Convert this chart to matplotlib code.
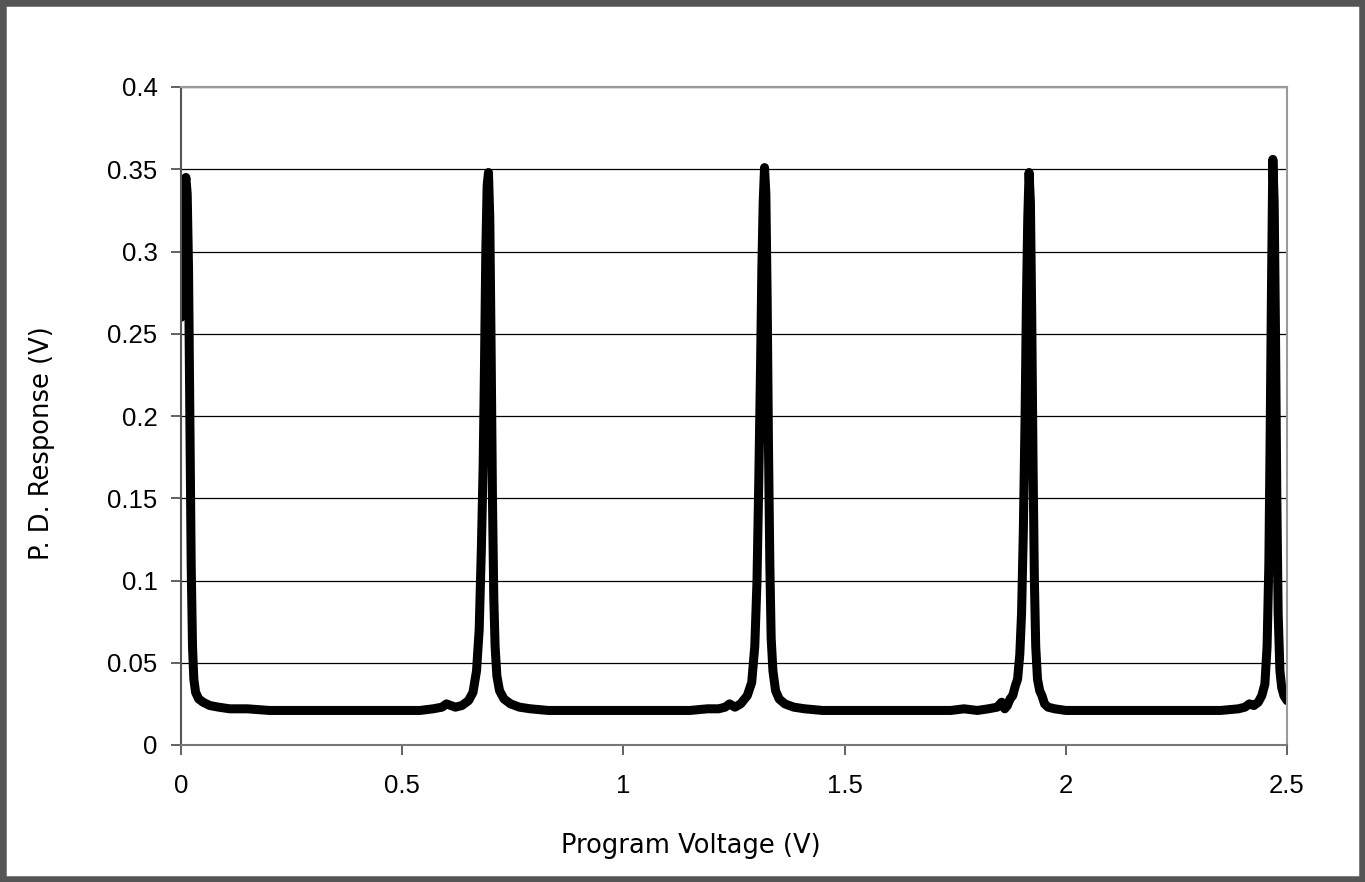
import matplotlib
matplotlib.use("Agg")
import matplotlib.pyplot as plt
from matplotlib.patches import Rectangle

# Program voltage (V) and photodiode response (V)
voltage = [
    0.000, 0.004, 0.008, 0.011, 0.014, 0.017, 0.020, 0.023, 0.026, 0.029,
    0.033, 0.040, 0.050, 0.065, 0.085, 0.110, 0.150, 0.200, 0.250, 0.300,
    0.350, 0.400, 0.450, 0.500, 0.540, 0.570, 0.590, 0.600, 0.610, 0.620,
    0.635, 0.650, 0.660, 0.668, 0.674, 0.679, 0.683, 0.686, 0.689, 0.692,
    0.695, 0.698, 0.701, 0.704, 0.707, 0.710, 0.714, 0.720, 0.730, 0.745,
    0.765, 0.790, 0.830, 0.880, 0.950, 1.000, 1.050, 1.100, 1.150, 1.190,
    1.215, 1.230, 1.240, 1.252, 1.265, 1.280, 1.290, 1.297, 1.302, 1.306,
    1.310, 1.313, 1.316, 1.319, 1.322, 1.325, 1.328, 1.331, 1.334, 1.338,
    1.344, 1.352, 1.365, 1.385, 1.410, 1.450, 1.500, 1.550, 1.600, 1.650,
    1.700, 1.740, 1.770, 1.800, 1.825, 1.845, 1.855, 1.862, 1.868, 1.874,
    1.880, 1.886, 1.891, 1.896, 1.900, 1.904, 1.908, 1.911, 1.914, 1.917,
    1.920, 1.923, 1.926, 1.929, 1.932, 1.936, 1.941, 1.946, 1.952, 1.960,
    1.975, 2.000, 2.050, 2.100, 2.150, 2.200, 2.250, 2.300, 2.350, 2.390,
    2.405, 2.415, 2.425, 2.435, 2.443, 2.450, 2.455, 2.459, 2.462, 2.465,
    2.468, 2.471, 2.474, 2.477, 2.480, 2.484, 2.488, 2.493, 2.500,
]
response = [
    0.260, 0.300, 0.338, 0.345, 0.335, 0.290, 0.200, 0.110, 0.060, 0.040,
    0.032, 0.028, 0.026, 0.024, 0.023, 0.022, 0.022, 0.021, 0.021, 0.021,
    0.021, 0.021, 0.021, 0.021, 0.021, 0.022, 0.023, 0.025, 0.024, 0.023,
    0.024, 0.027, 0.032, 0.045, 0.070, 0.120, 0.170, 0.230, 0.300, 0.340,
    0.348, 0.320, 0.240, 0.150, 0.090, 0.060, 0.042, 0.033, 0.028, 0.025,
    0.023, 0.022, 0.021, 0.021, 0.021, 0.021, 0.021, 0.021, 0.021, 0.022,
    0.022, 0.023, 0.025, 0.023, 0.025, 0.030, 0.038, 0.060, 0.100, 0.160,
    0.230, 0.290, 0.330, 0.351, 0.335, 0.270, 0.180, 0.110, 0.065, 0.045,
    0.033, 0.028, 0.025, 0.023, 0.022, 0.021, 0.021, 0.021, 0.021, 0.021,
    0.021, 0.021, 0.022, 0.021, 0.022, 0.023, 0.026, 0.022, 0.024, 0.028,
    0.030, 0.036, 0.040, 0.055, 0.080, 0.130, 0.200, 0.270, 0.320, 0.348,
    0.330, 0.260, 0.170, 0.100, 0.060, 0.040, 0.033, 0.030, 0.025, 0.023,
    0.022, 0.021, 0.021, 0.021, 0.021, 0.021, 0.021, 0.021, 0.021, 0.022,
    0.023, 0.025, 0.024, 0.026, 0.030, 0.037, 0.060, 0.110, 0.190, 0.280,
    0.356, 0.330, 0.250, 0.150, 0.080, 0.045, 0.035, 0.030, 0.027,
]

x_ticks = [0, 0.5, 1, 1.5, 2, 2.5]
x_tick_labels = ["0", "0.5", "1", "1.5", "2", "2.5"]
y_ticks = [0, 0.05, 0.1, 0.15, 0.2, 0.25, 0.3, 0.35, 0.4]
y_tick_labels = ["0", "0.05", "0.1", "0.15", "0.2", "0.25", "0.3", "0.35", "0.4"]

W, H = 1365, 882
fig = plt.figure(figsize=(W / 100, H / 100), dpi=100)
fig.patch.set_facecolor("white")
ax = fig.add_axes([181 / W, 137 / H, 1106 / W, 658 / H])

ax.plot(voltage, response, color="black", linewidth=6.5,
        solid_joinstyle="round", solid_capstyle="round", clip_on=True)

ax.set_xlim(0, 2.5)
ax.set_ylim(0, 0.4)
ax.set_xticks(x_ticks)
ax.set_xticklabels(x_tick_labels)
ax.set_yticks(y_ticks)
ax.set_yticklabels(y_tick_labels)

ax.grid(axis="y", color="black", linewidth=0.9)
ax.set_axisbelow(True)

for side in ["top", "right"]:
    ax.spines[side].set_color("#9a9a9a")
    ax.spines[side].set_linewidth(1.5)
ax.spines["left"].set_color("#555555")
ax.spines["left"].set_linewidth(1.5)
ax.spines["bottom"].set_color("#777777")
ax.spines["bottom"].set_linewidth(1.5)

ax.tick_params(axis="both", direction="out", length=7, width=1.3,
               color="#555555", labelsize=18.5)
ax.tick_params(axis="x", pad=14)
ax.tick_params(axis="y", pad=10)
for lbl in ax.get_xticklabels() + ax.get_yticklabels():
    lbl.set_fontfamily("Liberation Sans")

fig.text(691 / W, 1 - 846 / H, "Program Voltage (V)", fontsize=18.5,
         family="DejaVu Sans", ha="center", va="center")
fig.text(42 / W, 1 - 443 / H, "P. D. Response (V)", fontsize=18.5,
         family="DejaVu Sans", ha="center", va="center", rotation=90)

fig.patches.append(Rectangle((0, 0), 1, 1, transform=fig.transFigure,
                             fill=False, edgecolor="#555555", linewidth=9))

fig.savefig("out.png", dpi=100, facecolor="white")
